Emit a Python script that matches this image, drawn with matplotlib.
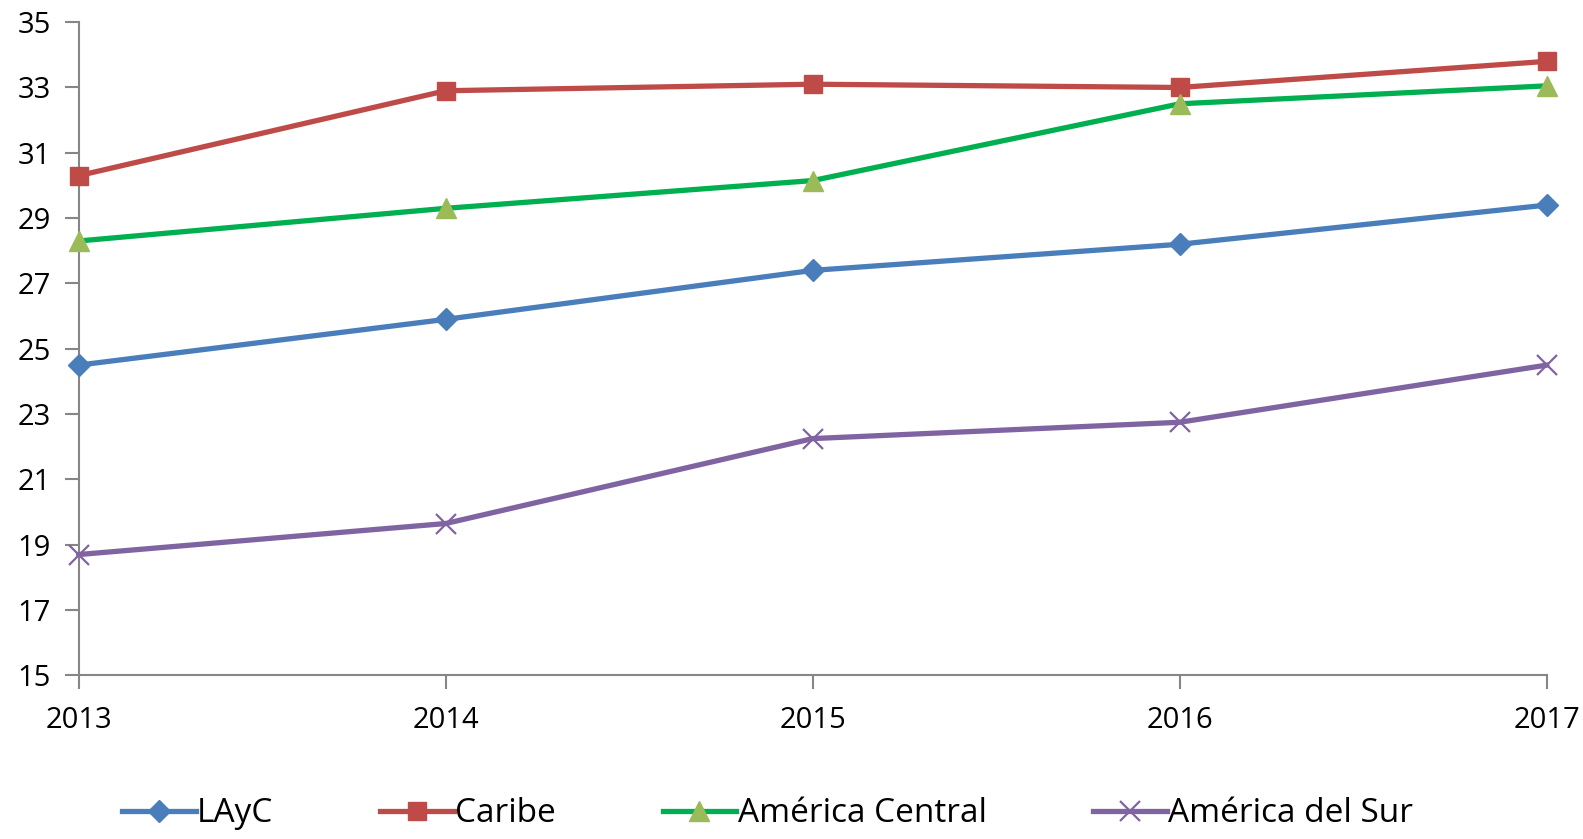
import matplotlib
matplotlib.use("Agg")
import matplotlib.pyplot as plt

years = [2013, 2014, 2015, 2016, 2017]
layc = [24.5, 25.9, 27.4, 28.2, 29.4]
caribe = [30.3, 32.9, 33.1, 33.0, 33.8]
am_central = [28.3, 29.3, 30.15, 32.5, 33.05]
am_sur = [18.7, 19.65, 22.25, 22.75, 24.5]
labels = ["LAyC", "Caribe", "América Central", "América del Sur"]
yticks = list(range(15, 36, 2))

plt.rcParams['font.family'] = ['Open Sans', 'DejaVu Sans']

fig = plt.figure(figsize=(15.83, 8.39), dpi=100)
ax = fig.add_axes([0.0497, 0.195, 0.9274, 0.7786])

lw = 3.8
ax.plot(years, layc, color="#4A7EBB", lw=lw, marker="D", ms=11, mfc="#4A7EBB", mec="#4A7EBB", label=labels[0], clip_on=False, zorder=3)
ax.plot(years, caribe, color="#BE4B48", lw=lw, marker="s", ms=13, mfc="#BE4B48", mec="#BE4B48", label=labels[1], clip_on=False, zorder=3)
ax.plot(years, am_central, color="#00B050", lw=lw, marker="^", ms=15, mfc="#9BBB59", mec="#9BBB59", label=labels[2], clip_on=False, zorder=3)
ax.plot(years, am_sur, color="#8064A2", lw=lw, marker="x", ms=14, mew=1.6, mfc="#8064A2", mec="#8064A2", label=labels[3], clip_on=False, zorder=3)

ax.set_xlim(2013, 2017)
ax.set_ylim(15, 35)
ax.set_xticks(years)
ax.set_xticklabels([str(y) for y in years])
ax.set_yticks(yticks)
for s in ["top", "right"]:
    ax.spines[s].set_visible(False)
for s in ["left", "bottom"]:
    ax.spines[s].set_color("#868686")
    ax.spines[s].set_linewidth(1.5)
ax.tick_params(axis="both", colors="#868686", labelcolor="black", width=1.5, length=10)
ax.tick_params(axis="y", labelsize=21, pad=10)
ax.tick_params(axis="x", labelsize=21, pad=12)

fig.legend(loc="center", bbox_to_anchor=(0.485, 0.03), ncol=4, frameon=False,
           fontsize=24, handlelength=2.2, handletextpad=0.05, columnspacing=3.2)

fig.savefig("out.png", dpi=100)
